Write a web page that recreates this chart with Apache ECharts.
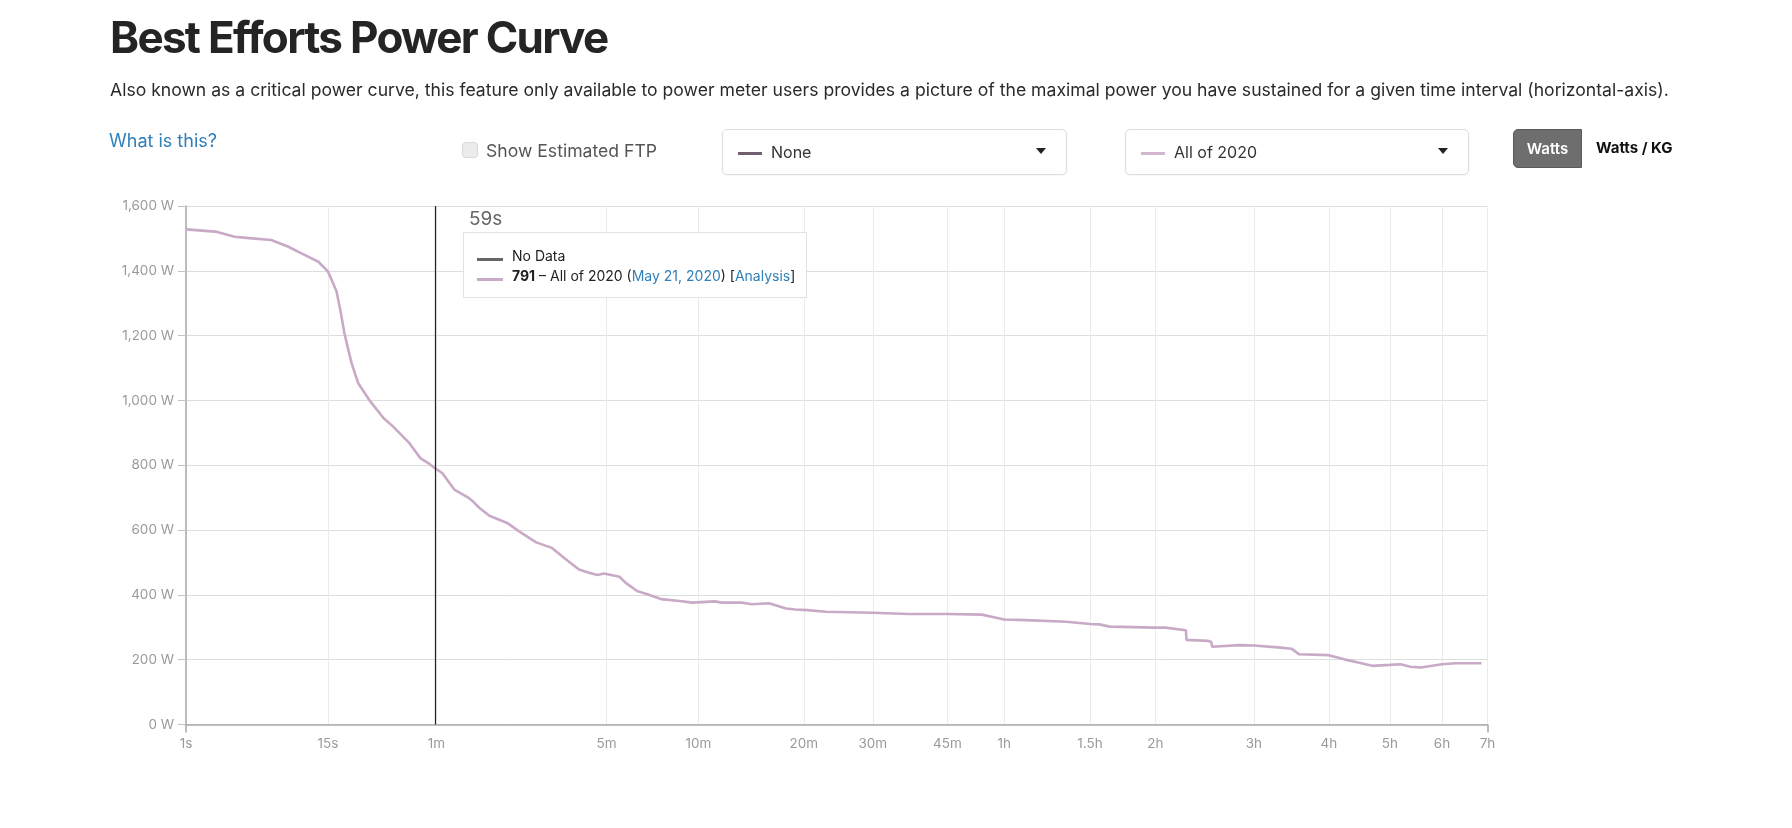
<!DOCTYPE html>
<html>
<head>
<meta charset="utf-8">
<title>Best Efforts Power Curve</title>
<script src="https://cdn.jsdelivr.net/npm/echarts@6.0.0/dist/echarts.min.js"></script>
<style>
html,body{margin:0;padding:0;background:#fff;}
body{width:1792px;height:828px;position:relative;overflow:hidden;font-family:Inter,"Noto Sans",sans-serif;color:#222;}
#chart{position:absolute;left:0;top:0;width:1792px;height:828px;}
.abs{position:absolute;white-space:nowrap;}
#title{left:110px;top:14px;font-size:44px;line-height:47px;font-weight:700;letter-spacing:-1.7px;color:#242424;}
#subtitle{left:110px;top:81px;font-size:17.6px;line-height:18px;color:#2a2a2a;}
#what{left:109px;top:131px;font-size:18px;line-height:20px;color:#2f7fb8;}
#ftpBox{left:462px;top:142px;width:14px;height:14px;border:1px solid #d6d6d6;border-radius:4px;background:#ececec;}
#ftpText{left:486px;top:141px;font-size:17.6px;line-height:20px;color:#555;}
.drop{top:129px;height:44px;border:1px solid #dcdcdc;border-radius:5px;background:#fff;box-shadow:0 1px 2px rgba(0,0,0,0.04);}
.drop .swatch{position:absolute;left:15px;top:22px;width:24px;height:3px;}
.drop .txt{position:absolute;left:48px;top:12px;font-size:16px;line-height:20px;color:#333;}
.drop .caret{position:absolute;right:20px;top:18px;width:0;height:0;border-left:5px solid transparent;border-right:5px solid transparent;border-top:6px solid #222;}
#watts{left:1513px;top:129px;width:67px;height:37px;background:#6e6e6e;border:1px solid #5a5a5a;border-radius:5px 0 0 5px;color:#fff;font-size:15px;font-weight:600;line-height:37px;text-align:center;}
#wkg{left:1596px;top:138px;font-size:15px;line-height:20px;font-weight:700;color:#111;}
#cursorLabel{left:469px;top:209px;font-size:19px;line-height:20px;color:#666;}
#tip{left:463px;top:232px;width:342px;height:64px;border:1.5px solid #e2e2e2;background:#fff;}
#tip .row{position:absolute;left:48px;font-size:14px;line-height:16px;color:#222;}
#tip .sw{position:absolute;left:13px;width:26px;height:2.5px;}
#tip a{color:#2f7fb8;text-decoration:none;}
</style>
</head>
<body>
<div id="chart"></div>

<div id="title" class="abs">Best Efforts Power Curve</div>
<div id="subtitle" class="abs">Also known as a critical power curve, this feature only available to power meter users provides a picture of the maximal power you have sustained for a given time interval (horizontal-axis).</div>
<div id="what" class="abs">What is this?</div>
<div id="ftpBox" class="abs"></div>
<div id="ftpText" class="abs">Show Estimated FTP</div>
<div class="abs drop" style="left:722px;width:343px;"><span class="swatch" style="background:#6f5f70;"></span><span class="txt">None</span><span class="caret"></span></div>
<div class="abs drop" style="left:1125px;width:342px;"><span class="swatch" style="background:#d4b6d0;"></span><span class="txt">All of 2020</span><span class="caret"></span></div>
<div id="watts" class="abs">Watts</div>
<div id="wkg" class="abs">Watts / KG</div>

<div id="cursorLabel" class="abs">59s</div>
<div id="tip" class="abs">
	<span class="sw" style="top:25px;background:#666;"></span>
	<span class="row" style="top:15px;">No Data</span>
	<span class="sw" style="top:45px;background:#c9aac6;"></span>
	<span class="row" style="top:35px;"><b>791</b> – All of 2020 (<a href="#">May 21, 2020</a>) [<a href="#">Analysis</a>]</span>
</div>

<script>
// durées (s) et puissance max (W)
var durations = [1,2,3,4,6,8,10,13,15,16,17,18,19,20,21,23,27,32,36,40,44,50,55,59,64,73,85,89,95,105,125,140,164,189,214,239,260,279,294,333,350,382,413,458,525,574,673,706,808,864,964,1075,1138,1227,1372,1800,2192,2700,3219,3400,3600,4000,4843,5400,5630,5893,7200,7515,8197,8215,8991,9100,9135,10183,10800,11872,12500,12870,14400,15246,16046,16880,18000,18680,19360,20070,21600,22620,24700];
var watts = [1528,1521,1505,1501,1495,1475,1454,1428,1398,1367,1336,1275,1208,1160,1115,1053,997,946,920,893,868,822,806,791,776,725,699,688,668,644,622,596,562,545,509,478,468,461,466,456,437,412,402,387,381,376,380,376,376,371,374,358,355,353,348,345,341,341,339,332,324,322,317,310,309,302,299,299,291,261,258,255,240,245,244,238,234,217,214,201,191,181,184,186,178,176,186,189,189];

// graduations de l'axe horizontal
var tickSeconds = [1,15,60,300,600,1200,1800,2700,3600,5400,7200,10800,14400,18000,21600,25200];
var tickLabels = ['1s','15s','1m','5m','10m','20m','30m','45m','1h','1.5h','2h','3h','4h','5h','6h','7h'];
var cursorSeconds = 59;

// echelle de l'axe x : puissance 1/5 des secondes
function scaleX(t){
	return Math.pow(t,0.2);
}

var tickPos = tickSeconds.map(scaleX);
var xMax = tickPos[tickPos.length-1];
var seriesData = [];
for(var i=0;i<durations.length;i++){
	seriesData.push([scaleX(durations[i]),watts[i]]);
}

function xLabel(v){
	for(var i=0;i<tickPos.length;i++){
		if(Math.abs(tickPos[i]-v)<1e-6){return tickLabels[i];}
	}
	return '';
}

var axisGray = '#a9a9a9';
var labelColor = '#9a9a9a';

var chart = echarts.init(document.getElementById('chart'));
chart.setOption({
	animation:false,
	grid:{left:186,top:206,width:1301.5,height:518.5},
	xAxis:[{
		type:'value',min:1,max:xMax,
		axisLine:{lineStyle:{color:axisGray,width:1.5}},
		axisTick:{show:false,customValues:tickPos},
		axisLabel:{customValues:tickPos,formatter:xLabel,color:labelColor,fontSize:13.5,fontFamily:'Inter',margin:12,hideOverlap:false},
		splitLine:{show:true,lineStyle:{color:'#ebebeb',width:1}}
	},{
		type:'value',min:1,max:xMax,position:'bottom',
		axisLine:{show:false},
		axisTick:{show:true,length:8,customValues:[1,xMax],lineStyle:{color:axisGray,width:1.5}},
		axisLabel:{show:false},
		splitLine:{show:false}
	}],
	yAxis:{
		type:'value',min:0,max:1600,interval:200,
		axisLine:{show:true,lineStyle:{color:axisGray,width:1.5}},
		axisTick:{show:true,length:8,lineStyle:{color:'#c4c4c4',width:1}},
		axisLabel:{color:labelColor,fontSize:13.5,fontFamily:'Inter',margin:12,
			formatter:function(v){return v.toLocaleString('en-US')+' W';}},
		splitLine:{lineStyle:{color:'#dddddd',width:1}}
	},
	series:[{
		type:'line',xAxisIndex:0,data:seriesData,
		showSymbol:false,
		lineStyle:{color:'#c9aac6',width:2.6},
		markLine:{
			silent:true,symbol:['none','none'],label:{show:false},
			lineStyle:{color:'#222',width:1.2,type:'solid'},
			data:[{xAxis:scaleX(cursorSeconds)}]
		}
	}]
});
</script>
</body>
</html>
